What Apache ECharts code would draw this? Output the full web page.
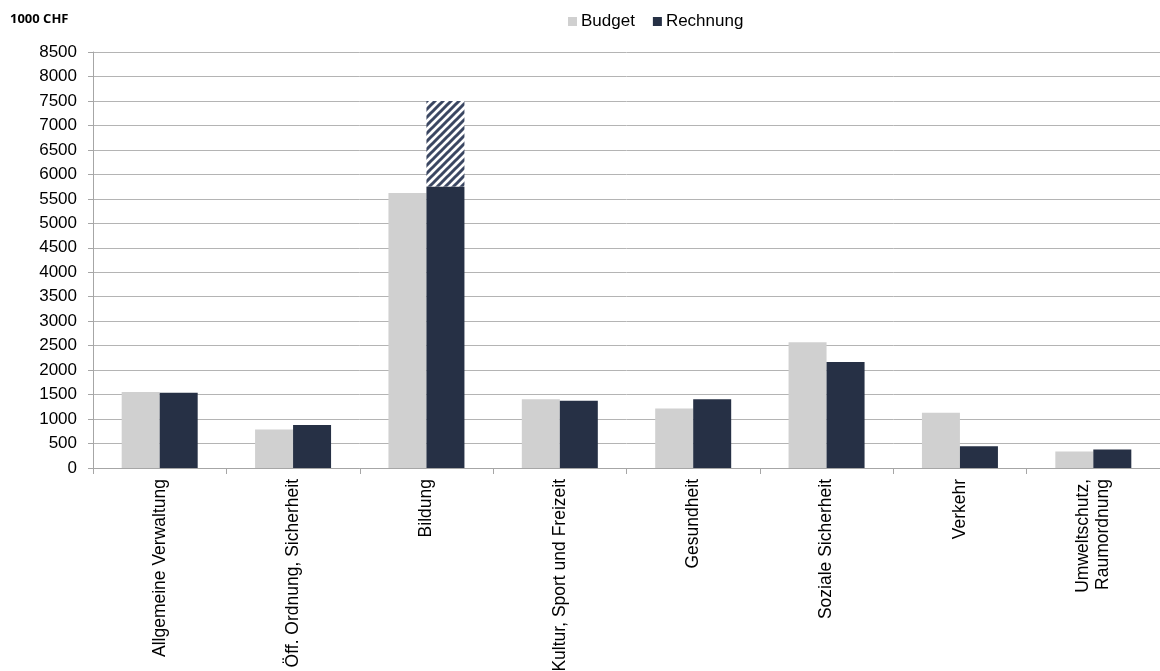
<!DOCTYPE html>
<html>
<head>
<meta charset="utf-8">
<script src="https://cdn.jsdelivr.net/npm/echarts@6/dist/echarts.min.js"></script>
<style>
  html, body { margin: 0; padding: 0; background: #fff; }
  #main { width: 1160px; height: 671px; }
</style>
</head>
<body>
<div id="main"></div>
<script>
// Kategorien und Werte (1000 CHF)
var categories = ['Allgemeine Verwaltung', 'Öff. Ordnung, Sicherheit', 'Bildung', 'Kultur, Sport und Freizeit',
  'Gesundheit', 'Soziale Sicherheit', 'Verkehr', 'Umweltschutz,\nRaumordnung'];
var budget = [1555, 785, 5620, 1405, 1215, 2570, 1127, 336];
var rechnung = [1537, 881, 5750, 1373, 1406, 2166, 445, 377];
// schraffierter Teil über Bildung (bis 7500)
var rechnungZusatz = ['-', '-', 1750, '-', '-', '-', '-', '-'];
var yTicks = { min: 0, max: 8500, step: 500 };

// Schraffur-Muster
var makeHatch = function () {
  var s = 8;
  var c = document.createElement('canvas');
  c.width = s; c.height = s;
  var ctx = c.getContext('2d');
  ctx.fillStyle = '#ffffff';
  ctx.fillRect(0, 0, s, s);
  ctx.strokeStyle = '#3b4762';
  ctx.lineWidth = 3;
  ctx.beginPath();
  ctx.moveTo(0, s); ctx.lineTo(s, 0);
  ctx.moveTo(-s / 2, s / 2); ctx.lineTo(s / 2, -s / 2);
  ctx.moveTo(s / 2, s + s / 2); ctx.lineTo(s + s / 2, s / 2);
  ctx.stroke();
  return c;
};

var chart = echarts.init(document.getElementById('main'));
chart.setOption({
  animation: false,
  textStyle: { fontFamily: 'Liberation Sans, Arial, sans-serif' },
  graphic: [{
    type: 'text',
    left: 10, top: 13,
    style: { text: '1000 CHF', fontFamily: 'Open Sans', fontWeight: 'bold', fontSize: 13, fill: '#000' }
  }],
  legend: {
    data: ['Budget', 'Rechnung'],
    left: 563, top: 8,
    itemWidth: 9, itemHeight: 9,
    itemGap: 18,
    icon: 'rect',
    textStyle: { fontSize: 17, color: '#000', padding: [0, 0, 0, -1] }
  },
  grid: { left: 93, right: 0, top: 52, bottom: 203, outerBoundsMode: 'none', containLabel: false },
  xAxis: {
    type: 'category',
    data: categories,
    axisLine: { lineStyle: { color: '#a6a6a6' } },
    axisTick: { show: true, length: 6, lineStyle: { color: '#a6a6a6' } },
    axisLabel: { rotate: 90, fontSize: 17.5, color: '#000', margin: 11, interval: 0, lineHeight: 20 }
  },
  yAxis: {
    type: 'value',
    min: yTicks.min, max: yTicks.max, interval: yTicks.step,
    axisLine: { show: true, lineStyle: { color: '#a6a6a6' } },
    axisTick: { show: true, length: 5, lineStyle: { color: '#a6a6a6' } },
    axisLabel: { fontSize: 17, color: '#000', margin: 16, formatter: function (v) { return String(v); } },
    splitLine: { lineStyle: { color: '#b4b4b4' } }
  },
  series: [
    {
      name: 'Budget', type: 'bar', barWidth: 38, barGap: '0%',
      itemStyle: { color: '#d0d0d0' },
      data: budget
    },
    {
      name: 'Rechnung', type: 'bar', barWidth: 38, stack: 'r',
      itemStyle: { color: '#263045' },
      data: rechnung
    },
    {
      name: 'Zusatz', type: 'bar', barWidth: 38, stack: 'r',
      itemStyle: { color: { image: makeHatch(), repeat: 'repeat' } },
      data: rechnungZusatz
    }
  ]
});
</script>
</body>
</html>
